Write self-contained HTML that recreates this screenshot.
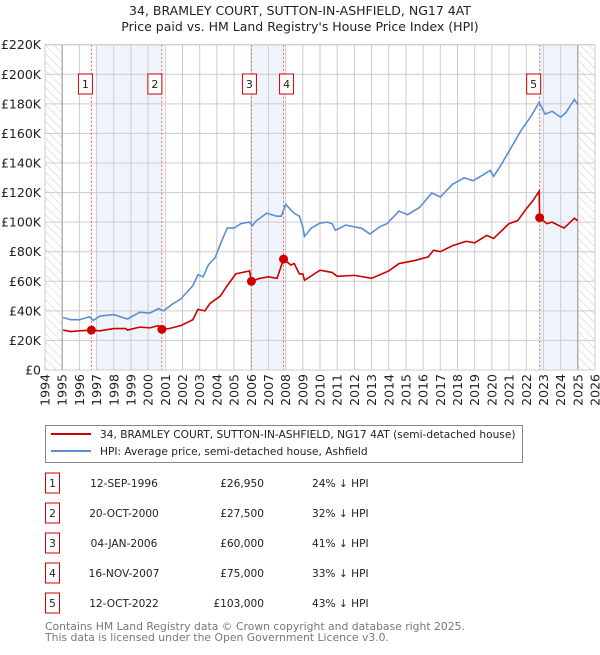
<!DOCTYPE html>
<html><head><meta charset="utf-8"><style>
body{margin:0;background:#fff;width:600px;height:650px;overflow:hidden;font-family:"Liberation Sans","DejaVu Sans",sans-serif}
svg text{font-family:"DejaVu Sans","Liberation Sans",sans-serif}
</style></head><body>
<svg id="c" width="600" height="650" viewBox="0 0 600 650" xmlns="http://www.w3.org/2000/svg">
<defs><pattern id="hatch" width="6" height="6" patternUnits="userSpaceOnUse" patternTransform="rotate(-45)"><line x1="0" y1="0" x2="0" y2="6" stroke="#ccc" stroke-width="1"/></pattern></defs>
<text x="300" y="15" text-anchor="middle" font-size="12.5" fill="#222">34, BRAMLEY COURT, SUTTON-IN-ASHFIELD, NG17 4AT</text>
<text x="300" y="31" text-anchor="middle" font-size="12.5" fill="#222">Price paid vs. HM Land Registry's House Price Index (HPI)</text>
<g id="plot"></g>
<g>
<rect x="45.5" y="425.5" width="477" height="37" fill="#fff" stroke="#888"/>
<line x1="51" y1="434" x2="91" y2="434" stroke="#cc0000" stroke-width="2"/>
<text x="100" y="438" font-size="10.6" fill="#222">34, BRAMLEY COURT, SUTTON-IN-ASHFIELD, NG17 4AT (semi-detached house)</text>
<line x1="51" y1="451" x2="91" y2="451" stroke="#5b8fd4" stroke-width="2"/>
<text x="100" y="455" font-size="10.6" fill="#222">HPI: Average price, semi-detached house, Ashfield</text>
</g>
<g id="table"></g>
<text x="45" y="630" font-size="10.8" fill="#777">Contains HM Land Registry data © Crown copyright and database right 2025.</text>
<text x="45" y="641" font-size="10.8" fill="#777">This data is licensed under the Open Government Licence v3.0.</text>
</svg>
<script>
const hpiYears=[1995.05,1995.5,1996,1996.6,1996.8,1997.2,1998,1998.8,1999.5,2000.1,2000.6,2000.9,2001.4,2001.9,2002.6,2002.9,2003.2,2003.5,2003.9,2004.2,2004.6,2005,2005.4,2005.9,2006.05,2006.3,2006.9,2007.5,2007.75,2008.0,2008.5,2008.8,2009.0,2009.1,2009.5,2010.0,2010.4,2010.7,2010.9,2011.5,2011.9,2012.4,2012.9,2013.5,2013.9,2014.6,2015.1,2015.8,2016.5,2017.0,2017.7,2018.4,2018.9,2019.5,2019.9,2020.1,2020.5,2021.0,2021.7,2022.3,2022.75,2023.1,2023.5,2024.0,2024.3,2024.8,2025.0];
const hpiValues=[35.5,34,34,36,33.5,36.5,37.5,34.5,39,38.5,41.5,40,44.5,48,57,64.5,63,71,76,85,96,96,99,100,97.5,101,106,104,104,112,106,104,96.7,90.4,96,99.4,100,99,94.5,98,97,96,92,97,99,107.5,105,110,119.7,117,125.5,130,128,132,135,131,138,148,162,172,181,173,175,171,174,183,179.5];
const ppYears=[1995.05,1995.5,1996,1996.7,1997.2,1998,1998.7,1998.8,1999.5,2000.1,2000.6,2000.8,2001.2,2001.9,2002.6,2002.9,2003.3,2003.6,2004.2,2004.6,2005.1,2005.9,2006.01,2006.5,2007.0,2007.5,2007.88,2008.3,2008.5,2008.8,2009.0,2009.1,2010.0,2010.7,2011.0,2012.0,2013.0,2014.0,2014.6,2015.5,2016.3,2016.6,2017.0,2017.7,2018.5,2019.0,2019.7,2020.1,2021.0,2021.5,2022.0,2022.4,2022.75,2022.78,2023.2,2023.5,2024.2,2024.8,2025.0];
const ppValues=[27,26,26.5,26.95,26.5,28,28,27,29,28.5,30,27.5,28,30,34,41,40,45,50,57,65,67,60,62,63,62,75,71,72,65,65,60.7,67.5,66,63.4,64,62,67,72,74,76.5,81,80,84,87,86,91,89,99,101,109,114.7,121,103,99,100,96,102.6,101];
const saleYears=[1996.7,2000.8,2006.01,2007.88,2022.78];
const saleValues=[26.95,27.5,60,75,103];
const saleLabels=["1","2","3","4","5"];
const saleDates=["12-SEP-1996","20-OCT-2000","04-JAN-2006","16-NOV-2007","12-OCT-2022"];
const salePrices=["£26,950","£27,500","£60,000","£75,000","£103,000"];
const saleDiffs=["24% ↓ HPI","32% ↓ HPI","41% ↓ HPI","33% ↓ HPI","43% ↓ HPI"];
const yTicks=[0,20,40,60,80,100,120,140,160,180,200,220];
const yTickLabels=["£0","£20K","£40K","£60K","£80K","£100K","£120K","£140K","£160K","£180K","£200K","£220K"];
const xTicks=[1994,1995,1996,1997,1998,1999,2000,2001,2002,2003,2004,2005,2006,2007,2008,2009,2010,2011,2012,2013,2014,2015,2016,2017,2018,2019,2020,2021,2022,2023,2024,2025,2026];
const shadeSpans=[[1997.0,2000.8],[2006.01,2007.88],[2022.78,2025.0]];

const NS="http://www.w3.org/2000/svg";
const X0=45,X1=595,Y0=370,Y1=44.7;
const x=v=>X0+(v-1994)/(2026-1994)*(X1-X0);
const y=v=>Y0-v/220*(Y0-Y1);
function mk(tag,attrs,parent){const e=document.createElementNS(NS,tag);for(const k in attrs)e.setAttribute(k,attrs[k]);parent.appendChild(e);return e;}
const plot=document.getElementById('plot');
shadeSpans.forEach(s=>{const r=mk('rect',{x:x(s[0]),y:Y1,width:x(s[1])-x(s[0]),height:Y0-Y1,fill:'#eef3fc'},plot);

});
[[1994,1995],[2025,2026]].forEach(s=>{const r=mk('rect',{x:x(s[0]),y:Y1,width:x(s[1])-x(s[0]),height:Y0-Y1,fill:'url(#hatch)'},plot);

});
yTicks.forEach((t,i)=>{const l=mk('line',{x1:X0,x2:X1,y1:y(t),y2:y(t),stroke:'#ccc'},plot);


const tx=mk('text',{x:X0-4,y:y(t)+4.5,'text-anchor':'end','font-size':'12.5',fill:'#222'},plot);tx.textContent=yTickLabels[i];

});
xTicks.forEach(t=>{const l=mk('line',{x1:x(t),x2:x(t),y1:Y1,y2:Y0,stroke:'#ccc'},plot);


const tx=mk('text',{x:0,y:0,'text-anchor':'end','font-size':'12.5',fill:'#222',transform:`translate(${x(t)+4.5},${Y0+4}) rotate(-90)`},plot);tx.textContent=t;

});
[1995,2025].forEach(t=>{const l=mk('line',{x1:x(t),x2:x(t),y1:Y1,y2:Y0,stroke:'#999'},plot);

});
saleYears.forEach(s=>{const l=mk('line',{x1:x(s),x2:x(s),y1:Y1,y2:Y0,stroke:'#e06060','stroke-dasharray':'2,2'},plot);

});
const hp=mk('polyline',{points:hpiYears.map((v,i)=>x(v)+','+y(hpiValues[i])).join(' '),fill:'none',stroke:'#5b8fd4','stroke-width':1.6},plot);


const pp=mk('polyline',{points:ppYears.map((v,i)=>x(v)+','+y(ppValues[i])).join(' '),fill:'none',stroke:'#cc0000','stroke-width':1.6},plot);


saleYears.forEach((s,i)=>{const c=mk('circle',{cx:x(s),cy:y(saleValues[i]),r:4.5,fill:'#cc0000'},plot);


const g=mk('g',{},plot);


const lx=[x(s)-6,x(s)-7,x(s)-2,x(s)+3,x(s)-6][i];
mk('rect',{x:lx-7,y:74,width:14,height:20,fill:'#fff',stroke:'#cc0000'},g);
const t=mk('text',{x:lx,y:88,'text-anchor':'middle','font-size':'11',fill:'#222'},g);t.textContent=saleLabels[i];});
mk('rect',{x:X0,y:Y1,width:X1-X0,height:Y0-Y1,fill:'none',stroke:'#ccc'},plot);
const tb=document.getElementById('table');
const rowY=[483,513,543,573,603];
saleLabels.forEach((lab,i)=>{const g=mk('g',{},tb);


mk('rect',{x:45.5,y:rowY[i]-10,width:14,height:20,fill:'#fff',stroke:'#cc0000'},g);
const a=mk('text',{x:52.5,y:rowY[i]+4,'text-anchor':'middle','font-size':'10.6',fill:'#222'},g);a.textContent=lab;
const b=mk('text',{x:124,y:rowY[i]+4,'text-anchor':'middle','font-size':'10.6',fill:'#222'},g);b.textContent=saleDates[i];
const c=mk('text',{x:264,y:rowY[i]+4,'text-anchor':'end','font-size':'10.6',fill:'#222'},g);c.textContent=salePrices[i];
const d=mk('text',{x:312,y:rowY[i]+4,'font-size':'10.6',fill:'#222'},g);d.textContent=saleDiffs[i];});
</script>
</body></html>
